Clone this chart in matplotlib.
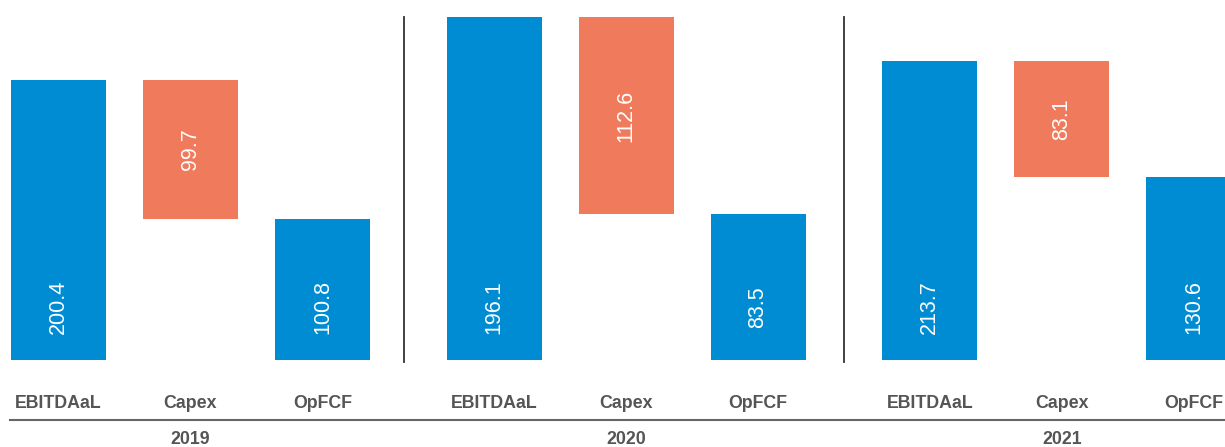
import matplotlib
matplotlib.use("Agg")
import matplotlib.pyplot as plt
from matplotlib.lines import Line2D

plt.rcParams["font.family"] = ["Liberation Sans", "DejaVu Sans"]

years = ["2019", "2020", "2021"]
categories = ["EBITDAaL", "Capex", "OpFCF"]
ebitdaal = [200.4, 196.1, 213.7]
capex = [99.7, 112.6, 83.1]
opfcf = [100.8, 83.5, 130.6]

# per-panel value range (each year panel is scaled on its own)
y_tops = [245.3, 196.1, 245.3]

BLUE = "#008CD3"
ORANGE = "#F07A5C"
LABEL_GREY = "#555555"

W, H, DPI = 1225, 447, 100
fig = plt.figure(figsize=(W / DPI, H / DPI), dpi=DPI)

# one x unit = 132 px; groups are spaced 3.3 units apart
unit_px = 132.0
x0 = -58.5 / unit_px
xlim = (x0, x0 + W / unit_px)
group_step = 3.3
bar_w = 95 / unit_px

rect = [0, 87 / H, 1, 343 / H]
axes = []
for i in range(len(years)):
    ax = fig.add_axes(rect, sharex=axes[0] if axes else None)
    ax.set_xlim(*xlim)
    ax.set_ylim(0, y_tops[i])
    ax.patch.set_alpha(0)
    ax.axis("off")
    axes.append(ax)

for i, year in enumerate(years):
    ax = axes[i]
    base = i * group_step
    xs = [base, base + 1, base + 2]
    e, c, o = ebitdaal[i], capex[i], opfcf[i]

    ax.bar(xs[0], e, width=bar_w, color=BLUE, linewidth=0)
    ax.bar(xs[1], c, bottom=e - c, width=bar_w, color=ORANGE, linewidth=0)
    ax.bar(xs[2], o, width=bar_w, color=BLUE, linewidth=0)

    # value labels
    for x, v in ((xs[0], e), (xs[2], o)):
        ax.annotate(f"{v:.1f}", xy=(x, 0), xytext=(0, 53), textcoords="offset pixels",
                    rotation=90, ha="center", va="center", color="white", fontsize=15.5)
    ax.text(xs[1], e - c / 2, f"{c:.1f}", rotation=90, ha="center", va="center",
            color="white", fontsize=15.5)

    # category labels
    for x, cat in zip(xs, categories):
        ax.annotate(cat, xy=(x, 0), xycoords=("data", "axes fraction"),
                    xytext=(0, -43), textcoords="offset pixels",
                    ha="center", va="center", fontsize=12.8, fontweight="bold",
                    color=LABEL_GREY, annotation_clip=False)

    # year label
    ax.annotate(year, xy=(xs[1], 0), xycoords=("data", "axes fraction"),
                xytext=(0, -79), textcoords="offset pixels",
                ha="center", va="center", fontsize=12.8, fontweight="bold",
                color=LABEL_GREY, annotation_clip=False)

# vertical dividers between years
for px in (404.3, 844.3):
    fig.add_artist(Line2D([px / W, px / W], [1 - 17 / H, 1 - 362 / H],
                          transform=fig.transFigure, color="#333333", linewidth=1.3))

# horizontal rule above the year labels
fig.add_artist(Line2D([10 / W, 1], [1 - 420 / H, 1 - 420 / H],
                      transform=fig.transFigure, color="#666666", linewidth=1.5))

fig.savefig("out.png", dpi=DPI)
